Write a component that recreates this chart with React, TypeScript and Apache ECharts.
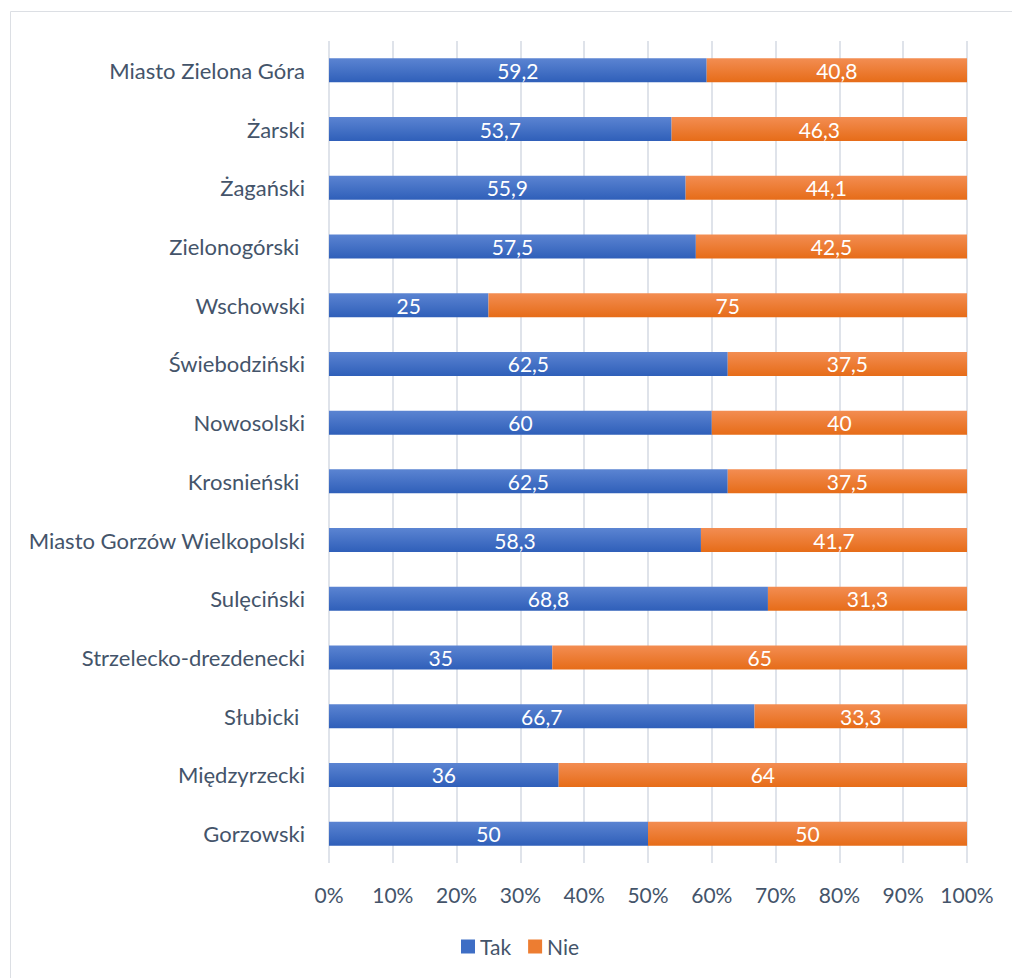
import React, { useEffect, useRef } from "react";
import * as echarts from "echarts";

const categories = [
  "Miasto Zielona Góra",
  "Żarski",
  "Żagański",
  "Zielonogórski\u00a0",
  "Wschowski",
  "Świebodziński",
  "Nowosolski",
  "Krosnieński\u00a0",
  "Miasto Gorzów Wielkopolski",
  "Sulęciński",
  "Strzelecko-drezdenecki",
  "Słubicki\u00a0",
  "Międzyrzecki",
  "Gorzowski",
];
const takValues = [59.2, 53.7, 55.9, 57.5, 25, 62.5, 60, 62.5, 58.3, 68.8, 35, 66.7, 36, 50];
const nieValues = [40.8, 46.3, 44.1, 42.5, 75, 37.5, 40, 37.5, 41.7, 31.3, 65, 33.3, 64, 50];
const xTicks = ["0%", "10%", "20%", "30%", "40%", "50%", "60%", "70%", "80%", "90%", "100%"];

const FONT = "Lato";
const FS = 21;
const TEXT = "#44546a";

export default function App() {
  const ref = useRef<HTMLDivElement>(null);
  useEffect(() => {
    const chart = echarts.init(ref.current!, null, { renderer: "svg" });
    const grad = (a: string, b: string) =>
      new echarts.graphic.LinearGradient(0, 0, 0, 1, [
        { offset: 0, color: a },
        { offset: 1, color: b },
      ]);
    const blue = grad("#5b84d2", "#2f5fb9");
    const orange = grad("#f38d52", "#e66c18");
    const fmt = (p: any) => String(p.value).replace(".", ",");
    chart.setOption({
      animation: false,
      backgroundColor: "#ffffff",
      graphic: [
        {
          type: "rect",
          shape: { x: 10.5, y: 11.5, width: 1100, height: 1100 },
          style: { fill: "none", stroke: "#dcdfe4", lineWidth: 1 },
          silent: true,
        },
      ],
      grid: { left: 329, right: 45, top: 41, bottom: 115, containLabel: false },
      legend: {
        data: [
          { name: "Tak", itemStyle: { color: "#3e6ec5" } },
          { name: "Nie", itemStyle: { color: "#ed7d31" } },
        ],
        bottom: 16,
        left: 456,
        icon: "rect",
        itemWidth: 14,
        itemHeight: 14,
        itemGap: 17,
        textStyle: { fontFamily: FONT, fontSize: FS, color: TEXT, padding: [0, 0, 0, 0] },
      },
      xAxis: {
        type: "value",
        min: 0,
        max: 100,
        interval: 10,
        axisLine: { show: false },
        axisTick: { show: false },
        splitLine: { show: true, lineStyle: { color: "#dfe3ea", width: 2 } },
        axisLabel: {
          fontFamily: FONT,
          fontSize: FS,
          color: TEXT,
          margin: 21,
          formatter: (v: number) => xTicks[Math.round(v / 10)],
        },
      },
      yAxis: {
        type: "category",
        data: categories,
        inverse: true,
        axisLine: { show: false },
        axisTick: { show: false },
        splitLine: { show: false },
        axisLabel: { fontFamily: FONT, fontSize: 22, color: TEXT, margin: 24 },
      },
      series: [
        {
          name: "Tak",
          type: "bar",
          stack: "total",
          barWidth: 24,
          data: takValues,
          itemStyle: { color: blue },
          label: { show: true, position: "inside", color: "#ffffff", fontFamily: FONT, fontSize: FS, formatter: fmt },
        },
        {
          name: "Nie",
          type: "bar",
          stack: "total",
          barWidth: 24,
          data: nieValues,
          itemStyle: { color: orange },
          label: { show: true, position: "inside", color: "#ffffff", fontFamily: FONT, fontSize: FS, formatter: fmt },
        },
      ],
    });
    return () => chart.dispose();
  }, []);
  return (
    <div
      ref={ref}
      style={{ position: "absolute", left: 0, top: 0, width: 1012, height: 978 }}
    />
  );
}
